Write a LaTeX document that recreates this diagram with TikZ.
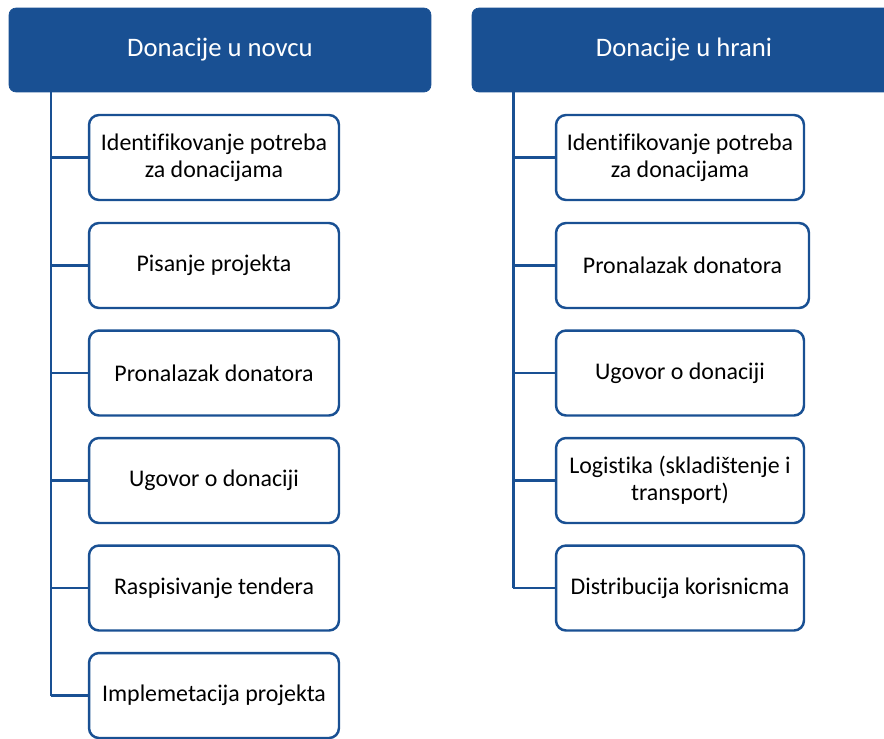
\documentclass[tikz,border=0pt]{standalone}
\usepackage{fontspec}
\setmainfont{Carlito}[Ligatures=NoCommon]
\definecolor{donBlue}{RGB}{25,80,147}
\usetikzlibrary{positioning}
\tikzset{
	% header and step boxes
	headbox/.style={draw=donBlue,fill=donBlue,rounded corners=0.14cm,minimum height=1.68cm,text=white,font=\fontsize{15.2}{18}\selectfont},
	stepbox/.style={draw=donBlue,line width=1.4pt,fill=white,rounded corners=0.2cm,minimum width=5cm,minimum height=1.7cm,align=center,font=\fontsize{13.6}{15.5}\selectfont},
	% tree lines
	trunk/.style={draw=donBlue,line width=1.7pt},
	branch/.style={draw=donBlue,line width=1.2pt},
}
\begin{document}
\begin{tikzpicture}[x=0.02cm,y=-0.02cm]
\useasboundingbox (0,0) rectangle (884,738);
\node [headbox,minimum width=8.44cm] (hdrMoney) at (220,50){Donacije u novcu};
\node [headbox,minimum width=8.48cm] (hdrFood) at (684,50){Donacije u hrani};
\coordinate (trunkMoney) at (51,92);
\coordinate (trunkFood) at (513,92);
% money steps
\node [stepbox] (mon1) at (214,157.5){Identifikovanje potreba\\za donacijama};
\node [stepbox] (mon2) at (214,265.5){Pisanje projekta};
\node [stepbox] (mon3) at (214,373){Pronalazak donatora};
\node [stepbox] (mon4) at (214,480.5){Ugovor o donaciji};
\node [stepbox] (mon5) at (214,588){Raspisivanje tendera};
\node [stepbox] (mon6) at (214,695.5){Implemetacija projekta};
% food steps
\node [stepbox,minimum width=4.96cm] (food1) at (680,157.5){Identifikovanje potreba\\za donacijama};
\node [stepbox,minimum width=5.06cm] (food2) at (682.5,265.5){Pronalazak donatora};
\node [stepbox,minimum width=4.96cm] (food3) at (680,373){Ugovor o donaciji};
\node [stepbox,minimum width=4.96cm] (food4) at (680,480.5){Logistika (skladištenje i\\transport)};
\node [stepbox,minimum width=4.96cm] (food5) at (680,588){Distribucija korisnicma};
\draw [trunk] (trunkMoney) -- (trunkMoney |- mon6.west);
\draw [trunk] (trunkFood) -- (trunkFood |- food5.west);
\foreach \s in {mon1,mon2,mon3,mon4,mon5,mon6}
	\draw [branch] (trunkMoney |- \s.west) -- (\s.west);
\foreach \s in {food1,food2,food3,food4,food5}
	\draw [branch] (trunkFood |- \s.west) -- (\s.west);
\end{tikzpicture}
\end{document}
